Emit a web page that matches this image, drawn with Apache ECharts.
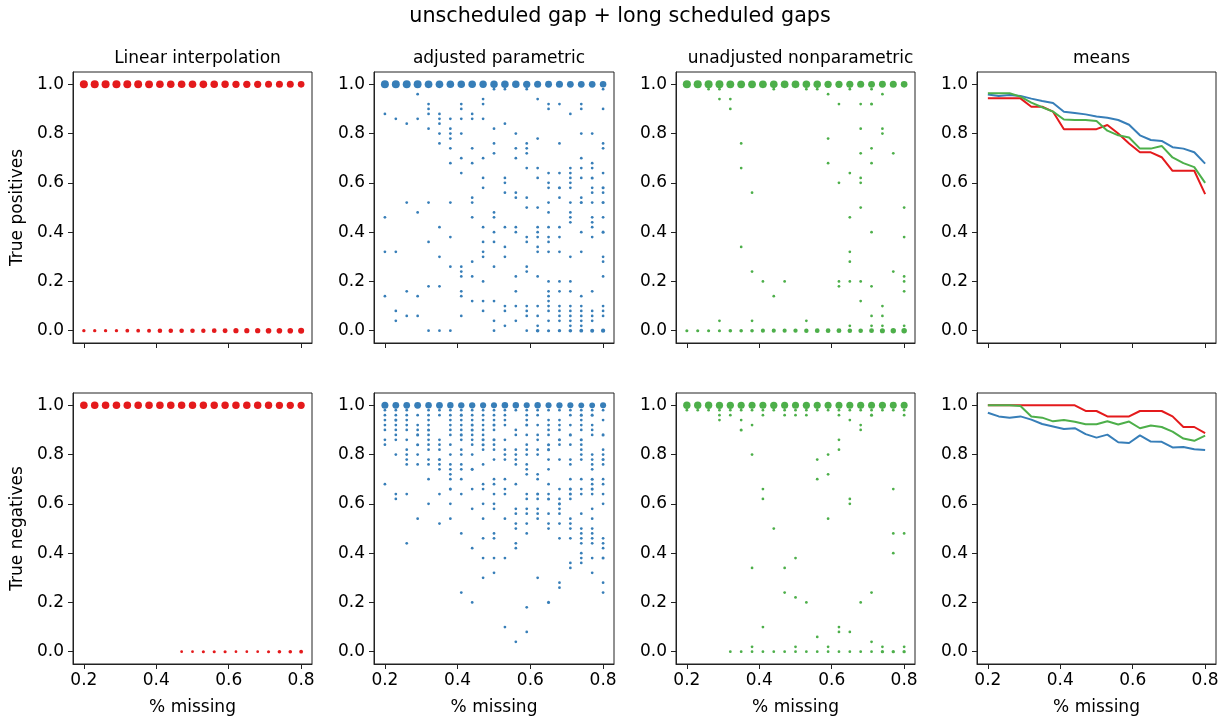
<!DOCTYPE html>
<html>
<head>
<meta charset="utf-8">
<script src="https://cdn.jsdelivr.net/npm/echarts@6/dist/echarts.min.js"></script>
<style>
html,body{margin:0;padding:0;background:#fff;}
#chart{width:1229px;height:719px;}
</style>
</head>
<body>
<div id="chart"></div>
<script>
// ---------------- DATA ----------------
const xMissing = [0.20,0.23,0.26,0.29,0.32,0.35,0.38,0.41,0.44,0.47,0.50,0.53,0.56,0.59,0.62,0.65,0.68,0.71,0.74,0.77,0.80];
const xTicks = [0.2,0.4,0.6,0.8];
const yTicks = [0.0,0.2,0.4,0.6,0.8,1.0];
const suptitle = 'unscheduled gap + long scheduled gaps';
const panelTitles = ['Linear interpolation','adjusted parametric','unadjusted nonparametric','means'];
const rowLabels = ['True positives','True negatives'];
const xLabel = '% missing';

// Linear interpolation: counts of trials at 1.0 and at 0.0 for each x
const linTPOnes  = [52,52,52,52,50,50,49,45,45,45,45,46,44,42,40,40,39,36,36,36,31];
const linTPZeros = [3,3,3,3,5,5,6,10,10,10,10,9,11,13,15,15,16,19,19,19,24];
const linTNOnes  = [44,44,44,44,44,44,44,44,44,43,43,42,42,42,43,43,43,42,40,40,39];
const linTNZeros = [0,0,0,0,0,0,0,0,0,1,1,2,2,2,1,1,1,2,4,4,5];

// adjusted parametric, true positives: count at 1.0, other values ([y,count] when count>1)
const adjTPOnes = [51,51,51,50,47,46,45,43,44,42,43,43,43,40,37,35,37,33,33,32,30];
const adjTPOther = [
  [0.88,0.46,0.32,0.14],
  [0.86,0.32,0.08,0.04],
  [0.84,0.52,0.16,0.06],
  [0.96,0.86,0.48,0.14,0.06],
  [0.92,0.90,0.88,0.82,0.52,0.36,0.18,0],
  [0.88,0.86,0.84,0.80,0.76,0.42,0.30,0.18,0],
  [0.86,0.82,0.80,0.78,0.74,0.68,0.52,0.38,0.26,0],
  [0.92,0.90,0.86,0.80,0.70,0.64,0.26,0.24,0.22,0.16,0.14,0.06],
  [0.88,0.86,0.74,0.68,0.54,0.52,0.46,0.28,0.22,0.12],
  [0.94,0.92,0.86,0.70,0.62,0.58,0.42,0.36,0.32,0.30,0.20,0.12,0.08],
  [0.98,0.82,0.76,0.72,0.48,0.46,0.40,0.36,0.26,0.12,0.04,0],
  [0.98,0.84,0.62,0.60,0.56,0.42,0.34,0.30,0.10,0.08,0.02],
  [0.80,0.74,0.70,0.56,0.54,0.42,0.40,0.22,0.16,0.10,0.04],
  [0.98,0.76,0.74,0.72,0.66,0.54,0.50,0.38,0.36,0.26,0.24,0.10,0.08,0.06,0],
  [0.94,0.78,0.66,0.62,0.50,0.42,0.40,0.38,0.34,0.32,0.22,0.10,0.06,0.02,[0,4]],
  [0.92,0.90,0.64,0.60,0.58,0.52,0.48,0.42,0.38,0.36,0.32,0.20,0.16,0.14,0.12,0.10,0.08,0.04,[0,2]],
  [0.92,0.76,0.64,[0.58,2],0.54,0.42,0.38,0.32,0.20,0.16,0.10,0.08,0.06,0.04,[0,3]],
  [0.88,0.66,0.64,0.62,0.60,0.58,0.52,0.48,0.46,0.44,0.30,0.20,0.16,0.10,0.08,0.06,0.04,0.02,[0,4]],
  [0.92,0.90,0.80,0.70,0.66,0.62,0.54,[0.52,2],0.40,0.32,0.14,0.10,0.08,0.06,0.04,0.02,[0,5]],
  [0.80,0.68,0.66,[0.62,2],0.58,0.56,0.52,0.46,0.44,0.42,0.38,0.16,0.08,0.06,0.04,[0,6]],
  [0.98,0.90,0.76,0.74,0.64,[0.58,2],0.56,[0.52,2],0.46,[0.40,2],0.30,0.28,0.22,0.10,0.08,0.06,[0,8]]
];

// adjusted parametric, true negatives
const adjTNOnes = [36,33,32,34,30,33,28,27,27,25,24,30,29,24,28,24,26,24,21,20,24];
const adjTNOther = [
  [0.98,0.96,0.94,0.92,0.90,0.86,0.84,0.68],
  [0.98,0.96,[0.94,2],0.92,0.90,0.88,0.86,0.80,0.64,0.62],
  [0.98,0.96,0.94,0.92,0.90,0.86,0.82,0.80,0.78,0.76,0.64,0.44],
  [0.96,0.92,0.90,[0.88,2],[0.84,2],0.80,0.76,0.54],
  [0.98,0.96,0.94,0.92,[0.90,2],0.88,0.86,0.84,0.82,0.78,0.76,0.70,0.60],
  [0.98,0.96,0.86,0.84,0.82,[0.78,2],0.76,0.74,0.64,0.52],
  [0.98,0.96,0.94,0.92,0.90,0.88,0.84,0.80,0.76,0.74,0.72,0.70,[0.66,2],0.60,0.54],
  [0.98,[0.96,2],0.94,0.92,0.90,[0.88,2],0.86,0.82,0.80,0.76,0.74,0.70,0.64,0.48,0.24],
  [0.98,0.96,0.94,[0.92,2],[0.90,2],0.88,0.86,0.84,0.80,[0.74,2],0.66,0.58,0.42,0.20],
  [0.98,0.96,0.94,0.92,0.90,0.88,[0.86,2],[0.84,2],0.82,0.76,0.68,0.66,0.60,0.54,0.46,0.38,0.30],
  [0.98,0.96,0.94,[0.92,2],0.90,[0.86,2],0.84,0.82,0.78,0.70,0.68,0.64,0.60,0.58,0.48,0.46,0.38,0.32],
  [0.98,0.96,0.94,0.92,0.86,0.82,0.80,0.78,0.70,0.66,0.64,0.54,0.38,0.10],
  [0.98,0.90,0.88,0.82,0.80,0.78,0.76,0.68,0.58,0.56,0.52,0.50,0.44,0.42,0.04],
  [0.98,0.96,0.94,[0.92,2],0.88,0.84,0.82,0.80,0.76,0.74,0.72,0.64,0.62,0.58,0.56,0.52,0.48,0.18,0.08],
  [0.98,0.96,0.92,0.88,0.86,0.82,0.80,0.72,0.70,[0.64,2],0.62,0.58,0.56,0.54,0.30],
  [0.98,0.94,0.92,0.90,0.88,[0.84,2],[0.82,2],0.78,0.74,0.68,0.64,[0.62,2],0.56,0.52,0.50,[0.20,2]],
  [0.98,0.94,0.92,0.90,[0.86,2],0.84,0.78,0.66,0.62,[0.60,2],0.58,0.56,0.52,0.46,0.28,0.26],
  [0.98,0.96,0.92,[0.88,2],0.84,0.78,0.76,0.70,[0.66,2],[0.64,2],0.62,0.54,0.52,0.50,0.46,0.36,0.34],
  [0.98,[0.96,2],0.94,0.92,0.90,[0.86,2],0.84,0.82,0.80,0.78,0.70,0.66,0.64,0.56,0.50,0.48,0.46,0.44,0.40,0.38,0.36],
  [0.98,[0.96,2],0.92,0.90,0.88,0.80,0.78,0.76,0.74,[0.70,2],0.68,[0.66,2],0.64,0.58,0.54,0.50,0.48,0.46,0.44,0.38,0.32],
  [0.98,0.94,[0.88,2],0.82,0.80,[0.78,2],0.76,0.70,0.68,0.64,0.60,0.46,0.44,0.42,[0.38,2],0.28,0.24]
];

// unadjusted nonparametric, true positives
const unadjTPOnes = [53,53,52,50,49,48,48,47,46,47,47,44,43,41,39,38,37,34,35,36,31];
const unadjTPOther = [
  [[0,2]],
  [[0,2]],
  [0.98,[0,2]],
  [0.98,0.94,0.04,[0,2]],
  [0.94,0.90,[0,4]],
  [0.76,0.66,0.34,[0,4]],
  [0.56,0.24,0.04,[0,4]],
  [0.20,[0,7]],
  [0.98,0.14,[0,7]],
  [0.20,[0,7]],
  [[0,8]],
  [0.98,0.04,[0,9]],
  [0.98,[0,11]],
  [0.96,0.78,0.68,[0,11]],
  [0.92,0.60,0.20,0.18,[0,12]],
  [0.98,0.64,0.46,0.32,0.28,0.20,0.02,[0,10]],
  [0.92,0.82,0.72,0.62,0.60,0.50,0.20,0.12,[0,10]],
  [0.98,[0.92,2],0.74,0.68,0.40,0.18,0.06,0.02,[0,12]],
  [0.96,0.82,0.80,0.10,0.06,0.02,[0,14]],
  [0.72,0.24,[0,17]],
  [0.50,0.38,0.22,0.20,0.16,0.02,[0,18]]
];

// unadjusted nonparametric, true negatives
const unadjTNOnes = [42,42,42,40,40,38,37,37,40,38,37,39,38,37,36,37,38,36,38,35,36];
const unadjTNOther = [
  [0.98],
  [0.98],
  [0.98],
  [0.98,0.96,0.94],
  [0.98,0.96,0],
  [0.98,0.94,[0.90,2],0],
  [0.98,0.92,0.80,0.34,0.02,0],
  [0.98,0.96,0.66,0.62,0.10,0],
  [0.98,0.50,0],
  [0.98,0.96,0.34,0.24,0],
  [0.98,0.96,0.38,0.22,0.02,0],
  [0.98,0.96,0.20,0],
  [0.98,0.78,0.70,0.06,0],
  [0.98,0.80,0.72,0.54,0.02,0],
  [0.98,0.96,0.86,0.82,0.10,0.08,0],
  [0.98,0.94,0.62,0.60,0.08,0],
  [0.98,0.92,0.90,0.20,0],
  [0.98,[0.96,2],0.24,0.04,0],
  [0.98,0.02,[0,3]],
  [0.98,0.66,0.48,0.40,[0,3]],
  [0.98,0.96,0.48,0.02,[0,3]]
];

// means
const meanTPLin   = [0.943,0.943,0.943,0.943,0.909,0.909,0.889,0.818,0.818,0.818,0.818,0.835,0.800,0.760,0.724,0.724,0.704,0.649,0.649,0.649,0.554];
const meanTPAdj   = [0.959,0.953,0.957,0.953,0.942,0.932,0.924,0.889,0.884,0.878,0.869,0.864,0.855,0.836,0.793,0.774,0.770,0.745,0.739,0.724,0.678];
const meanTPUnadj = [0.964,0.964,0.964,0.950,0.926,0.907,0.889,0.857,0.855,0.855,0.851,0.812,0.793,0.784,0.739,0.739,0.750,0.703,0.680,0.664,0.600];
const meanTNLin   = [1,1,1,1,1,1,1,1,1,0.977,0.977,0.955,0.955,0.955,0.977,0.977,0.977,0.955,0.912,0.912,0.887];
const meanTNAdj   = [0.970,0.955,0.950,0.955,0.942,0.924,0.914,0.904,0.907,0.883,0.869,0.881,0.850,0.847,0.878,0.853,0.852,0.829,0.831,0.822,0.819];
const meanTNUnadj = [1,1,1,0.997,0.955,0.950,0.935,0.940,0.933,0.923,0.923,0.935,0.922,0.934,0.907,0.918,0.912,0.893,0.865,0.856,0.877];

// ---------------- BUILD ----------------
const RED = '#e41a1c', BLUE = '#377eb8', GREEN = '#4daf4a';
const FONT = 'DejaVu Sans';
const FS = 17;

function binaryPoints(ones, zeros) {
  const pts = [];
  xMissing.forEach((x, i) => {
    if (zeros[i] > 0) pts.push([x, 0, zeros[i]]);
    if (ones[i] > 0) pts.push([x, 1, ones[i]]);
  });
  return pts;
}
function spreadPoints(ones, other) {
  const pts = [];
  xMissing.forEach((x, i) => {
    pts.push([x, 1, ones[i]]);
    other[i].forEach(v => {
      if (Array.isArray(v)) pts.push([x, v[0], v[1]]);
      else pts.push([x, v, 1]);
    });
  });
  return pts;
}

const lefts = [73, 374, 676, 977];
const widths = [239, 240, 239, 239];
const tops = [72, 393];
const H = 271;

const grids = [], xAxes = [], yAxes = [], series = [], titles = [];
titles.push({
  text: suptitle, left: 615, top: 1, textAlign: 'center',
  textStyle: {fontFamily: FONT, fontSize: 20.7, fontWeight: 'normal', color: '#000'}
});
for (let r = 0; r < 2; r++) {
  for (let c = 0; c < 4; c++) {
    const gi = r * 4 + c;
    grids.push({left: lefts[c], top: tops[r], width: widths[c], height: H,
      show: true, borderColor: '#222', borderWidth: 1, backgroundColor: '#fff', containLabel: false});
    xAxes.push({
      gridIndex: gi, type: 'value', min: 0.17, max: 0.83,
      axisLine: {show: true, onZero: false, lineStyle: {color: '#222', width: 1}},
      axisTick: {show: true, length: 5, inside: false, customValues: xTicks, lineStyle: {color: '#222', width: 1}},
      axisLabel: {show: r === 1, customValues: xTicks, formatter: v => v.toFixed(1),
        fontFamily: FONT, fontSize: FS, color: '#000', margin: 8},
      splitLine: {show: false},
      name: r === 1 ? xLabel : '', nameLocation: 'middle', nameGap: 35,
      nameTextStyle: {fontFamily: FONT, fontSize: FS, color: '#000'}
    });
    yAxes.push({
      gridIndex: gi, type: 'value', min: -0.05, max: 1.05,
      axisLine: {show: true, onZero: false, lineStyle: {color: '#222', width: 1}},
      axisTick: {show: true, length: 5, inside: false, customValues: yTicks, lineStyle: {color: '#222', width: 1}},
      axisLabel: {show: true, customValues: yTicks, formatter: v => v.toFixed(1),
        fontFamily: FONT, fontSize: FS, color: '#000', margin: 9},
      splitLine: {show: false},
      name: c === 0 ? rowLabels[r] : '', nameLocation: 'middle', nameGap: 47, nameRotate: 90,
      nameTextStyle: {fontFamily: FONT, fontSize: FS, color: '#000'}
    });
    if (r === 0) {
      titles.push({
        text: panelTitles[c], left: lefts[c] + widths[c] / 2, top: 45, textAlign: 'center',
        textStyle: {fontFamily: FONT, fontSize: FS, fontWeight: 'normal', color: '#000'}
      });
    }
  }
}

const sizeFn = v => Math.sqrt(v[2]) * 0.85 + 1.9;
function scatter(gi, data, color) {
  series.push({type: 'scatter', xAxisIndex: gi, yAxisIndex: gi, data: data,
    symbol: 'circle', symbolSize: sizeFn, itemStyle: {color: color, opacity: 1},
    emphasis: {disabled: true}, silent: true, animation: false});
}
function meanLine(gi, vals, color) {
  series.push({type: 'line', xAxisIndex: gi, yAxisIndex: gi,
    data: xMissing.map((x, i) => [x, vals[i]]),
    showSymbol: false, lineStyle: {color: color, width: 2}, itemStyle: {color: color},
    silent: true, animation: false});
}

scatter(0, binaryPoints(linTPOnes, linTPZeros), RED);
scatter(1, spreadPoints(adjTPOnes, adjTPOther), BLUE);
scatter(2, spreadPoints(unadjTPOnes, unadjTPOther), GREEN);
meanLine(3, meanTPLin, RED);
meanLine(3, meanTPAdj, BLUE);
meanLine(3, meanTPUnadj, GREEN);
scatter(4, binaryPoints(linTNOnes, linTNZeros), RED);
scatter(5, spreadPoints(adjTNOnes, adjTNOther), BLUE);
scatter(6, spreadPoints(unadjTNOnes, unadjTNOther), GREEN);
meanLine(7, meanTNLin, RED);
meanLine(7, meanTNAdj, BLUE);
meanLine(7, meanTNUnadj, GREEN);

const chart = echarts.init(document.getElementById('chart'), null, {renderer: 'canvas'});
chart.setOption({
  backgroundColor: '#fff',
  animation: false,
  title: titles,
  grid: grids,
  xAxis: xAxes,
  yAxis: yAxes,
  series: series
});
</script>
</body>
</html>
